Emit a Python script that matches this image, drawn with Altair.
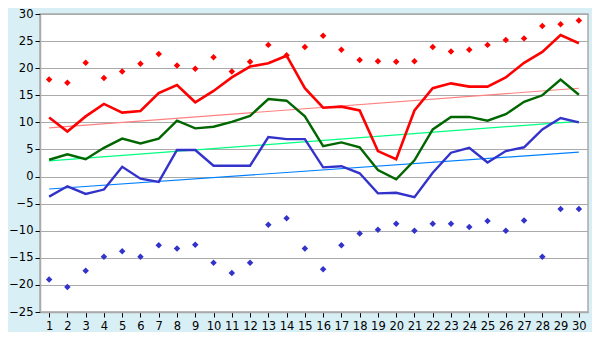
import altair as alt
import pandas as pd

days = list(range(1, 31))
t_max = [10.9, 8.3, 11.1, 13.4, 11.8, 12.1, 15.4, 16.9, 13.7, 15.8, 18.3, 20.3, 20.9, 22.3, 16.3,
         12.7, 12.9, 12.2, 4.7, 3.2, 12.2, 16.3, 17.2, 16.6, 16.6, 18.3, 21.0, 23.0, 26.1, 24.6]
t_mean = [3.1, 4.1, 3.2, 5.3, 7.0, 6.1, 7.0, 10.3, 8.9, 9.2, 10.1, 11.2, 14.3, 14.0, 11.1,
          5.6, 6.3, 5.4, 1.2, -0.5, 3.0, 8.7, 11.0, 11.0, 10.3, 11.5, 13.8, 15.0, 17.9, 15.1]
t_min = [-3.7, -1.8, -3.2, -2.4, 1.8, -0.4, -1.0, 4.9, 4.9, 2.0, 2.0, 2.0, 7.3, 6.9, 6.9,
         1.7, 1.9, 0.6, -3.1, -3.0, -3.8, 0.7, 4.4, 5.3, 2.6, 4.7, 5.4, 8.7, 10.8, 10.0]
rec_high = [17.9, 17.3, 21.0, 18.2, 19.4, 20.8, 22.6, 20.5, 19.9, 22.0, 19.4, 21.2, 24.3, 22.4, 23.9,
            26.0, 23.4, 21.5, 21.3, 21.2, 21.3, 23.9, 23.1, 23.4, 24.3, 25.2, 25.5, 27.8, 28.1, 28.8]
rec_low = [-19.0, -20.4, -17.4, -14.8, -13.8, -14.8, -12.7, -13.3, -12.6, -15.9, -17.8, -15.9, -8.9, -7.7, -13.3,
           -17.1, -12.7, -10.5, -9.8, -8.7, -10.0, -8.7, -8.7, -9.3, -8.2, -10.0, -8.1, -14.8, -6.0, -6.0]
trend_days = [1, 30]
trend_max = [9.0, 16.3]
trend_mean = [2.9, 10.2]
trend_min = [-2.3, 4.5]
y_ticks = list(range(-25, 31, 5))

df = pd.DataFrame({"day": days, "tmax": t_max, "tmean": t_mean, "tmin": t_min,
                   "rhi": rec_high, "rlo": rec_low})
dt = pd.DataFrame({"day": trend_days, "tmax": trend_max, "tmean": trend_mean, "tmin": trend_min})

x = alt.X("day:Q", scale=alt.Scale(domain=[0.5, 30.5], nice=False, zero=False),
          axis=alt.Axis(values=days, title=None, grid=False, labelFlush=False,
                        domainColor="#aaaaaa", tickColor="#000000", tickSize=5,
                        labelFontSize=11.5, labelPadding=3))

y_axis = alt.Axis(values=y_ticks, title=None, grid=True, gridColor="#aaaaaa",
                  domainColor="#aaaaaa", tickColor="#000000", tickSize=5,
                  labelFontSize=11.5, labelPadding=2, labelFlush=False)

def yenc(field):
    return alt.Y(f"{field}:Q", scale=alt.Scale(domain=[-25, 30], nice=False, zero=False),
                 axis=y_axis, title=None)

base = alt.Chart(df)
trend = alt.Chart(dt)

layers = [
    trend.mark_line(color="#ff8080", strokeWidth=1.2).encode(x=x, y=yenc("tmax")),
    trend.mark_line(color="#00ff80", strokeWidth=1.2).encode(x=x, y=yenc("tmean")),
    trend.mark_line(color="#0080ff", strokeWidth=1.2).encode(x=x, y=yenc("tmin")),
    base.mark_line(color="#ff0000", strokeWidth=2.6).encode(x=x, y=yenc("tmax")),
    base.mark_line(color="#006600", strokeWidth=2.4).encode(x=x, y=yenc("tmean")),
    base.mark_line(color="#3333cc", strokeWidth=2.4).encode(x=x, y=yenc("tmin")),
    base.mark_point(shape="diamond", filled=True, size=42, color="#ff0000", opacity=1).encode(x=x, y=yenc("rhi")),
    base.mark_point(shape="diamond", filled=True, size=42, color="#3333cc", opacity=1).encode(x=x, y=yenc("rlo")),
]

chart = alt.layer(*layers).resolve_axis(y="shared").properties(
    width=584, height=324,
    autosize=alt.AutoSizeParams(type="fit", contains="padding"),
    padding={"left": 0, "top": 0, "right": 4, "bottom": 0},
    background="#d9eff6",
).configure_view(fill="#ffffff", stroke="#aaaaaa", strokeWidth=1.5).configure_axis(
    labelFont="DejaVu Sans", labelColor="#000000", domainWidth=1.5, gridWidth=1.2
)

chart.save("out.html", embed_options={"renderer": "svg", "actions": False})
